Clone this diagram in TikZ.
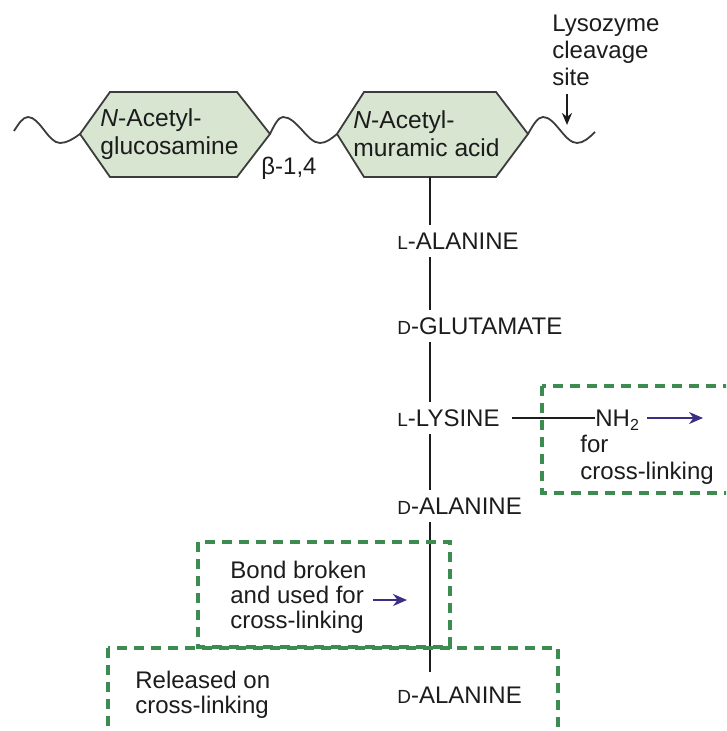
\documentclass[tikz,border=0pt]{standalone}
\usepackage{fontspec}
\setmainfont{Liberation Sans}
\usetikzlibrary{arrows.meta}
\definecolor{hexfill}{HTML}{D7E5D1}
\definecolor{hexdraw}{HTML}{3C3C3C}
\definecolor{boxgreen}{HTML}{3C8C52}
\definecolor{arrowblue}{HTML}{3B2E85}
\definecolor{ink}{HTML}{1C1C1C}
\newcommand{\smc}[1]{{\fontsize{9.5}{10}\selectfont #1}}
\begin{document}
\begin{tikzpicture}[x=0.5pt,y=-0.5pt,
  font=\fontsize{12}{13.5}\selectfont, text=ink,
  lbl/.style={inner sep=0pt, anchor=west, text height=8.6pt, text depth=0pt, minimum height=16pt},
  txt/.style={inner sep=0pt, anchor=west, align=left},
  bond/.style={line width=1.2pt, ink},
  sugar/.style={draw=hexdraw, fill=hexfill, line width=0.9pt, line join=miter},
  wave/.style={line width=0.9pt, hexdraw},
  dbox/.style={draw=boxgreen, line width=1.7pt, dash pattern=on 5pt off 3.5pt},
  bluearrow/.style={arrowblue, line width=1.1pt, -{Stealth[length=7pt,width=6pt]}},
  blackarrow/.style={ink, line width=1pt, -{Stealth[length=6pt,width=5pt]}}]
\clip (0,0) rectangle (726,731);

% sugars
\coordinate (g-w) at (80,134); \coordinate (g-e) at (270,134);
\draw[sugar] (g-w) -- (110,92) -- (237,92) -- (g-e) -- (237,177) -- (110,177) -- cycle;
\node[txt, font=\fontsize{12.3}{14}\selectfont] (glc) at (100,134) {\textit{N}-Acetyl-\\glucosamine};

\coordinate (m-w) at (337,134); \coordinate (m-e) at (528,134); \coordinate (m-s) at (430,177);
\draw[sugar] (m-w) -- (364,92) -- (496,92) -- (m-e) -- (496,177) -- (364,177) -- cycle;
\node[txt, font=\fontsize{12.3}{14}\selectfont] (mur) at (353,134) {\textit{N}-Acetyl-\\muramic acid};

% glycan chain waves
\coordinate (wl) at (14,131);
\coordinate (wr) at (595,132);
\draw[wave] (wl) sin (28,117) cos (44,130) sin (60,143) cos (g-w);
\draw[wave] (g-e) sin (283,117) cos (302,130) sin (320,143) cos (m-w);
\draw[wave] (m-e) sin (543,117) cos (560,130) sin (577,143) cos (wr);

\node (beta) at (289,168) {β-1,4};

% lysozyme
\coordinate (cut) at (567,125);
\node[txt] (lyso) at (552,50) {Lysozyme\\cleavage\\site};
\draw[blackarrow, shorten <=4pt] (lyso.south -| cut) -- (cut);

% peptide stem
\node[lbl] (la) at (397,241) {\smc{L}-ALANINE};
\node[lbl] (dg) at (397,326) {\smc{D}-GLUTAMATE};
\node[lbl] (ll) at (397,418) {\smc{L}-LYSINE};
\node[lbl] (da) at (397,506) {\smc{D}-ALANINE};
\node[lbl] (da2) at (397,695) {\smc{D}-ALANINE};

\draw[bond] (m-s) -- (m-s |- la.north);
\draw[bond] (m-s |- la.south) -- (m-s |- dg.north);
\draw[bond] (m-s |- dg.south) -- (m-s |- ll.north);
\draw[bond] (m-s |- ll.south) -- (m-s |- da.north);
\draw[bond, shorten >=3.5pt] (m-s |- da.south) -- (m-s |- da2.north);

% lysine side chain
\node[lbl] (nh2) at (595,418) {NH\textsubscript{2}};
\draw[bond, shorten <=6pt] (ll.east) -- (ll.east -| nh2.west);
\coordinate (nhtip) at (703,418);
\draw[bluearrow, shorten <=3.5pt] (nh2.east) -- (nhtip);
\node[txt] (forcl) at (580,460) {for\\cross-linking};

% dashed boxes
\draw[dbox] (542,386) rectangle (760,493);
\draw[dbox] (198,542) rectangle (450,647);
\draw[dbox] (108,648) rectangle (558,760);

\node[txt, font=\fontsize{12}{12.5}\selectfont] (bb) at (230,597) {Bond broken\\and used for\\cross-linking};
\coordinate (bbtip) at (407,600);
\draw[bluearrow, shorten <=3pt] (bb.east |- bbtip) -- (bbtip);

\node[txt, font=\fontsize{12}{12.5}\selectfont] (rel) at (135,695) {Released on\\cross-linking};
\end{tikzpicture}
\end{document}
